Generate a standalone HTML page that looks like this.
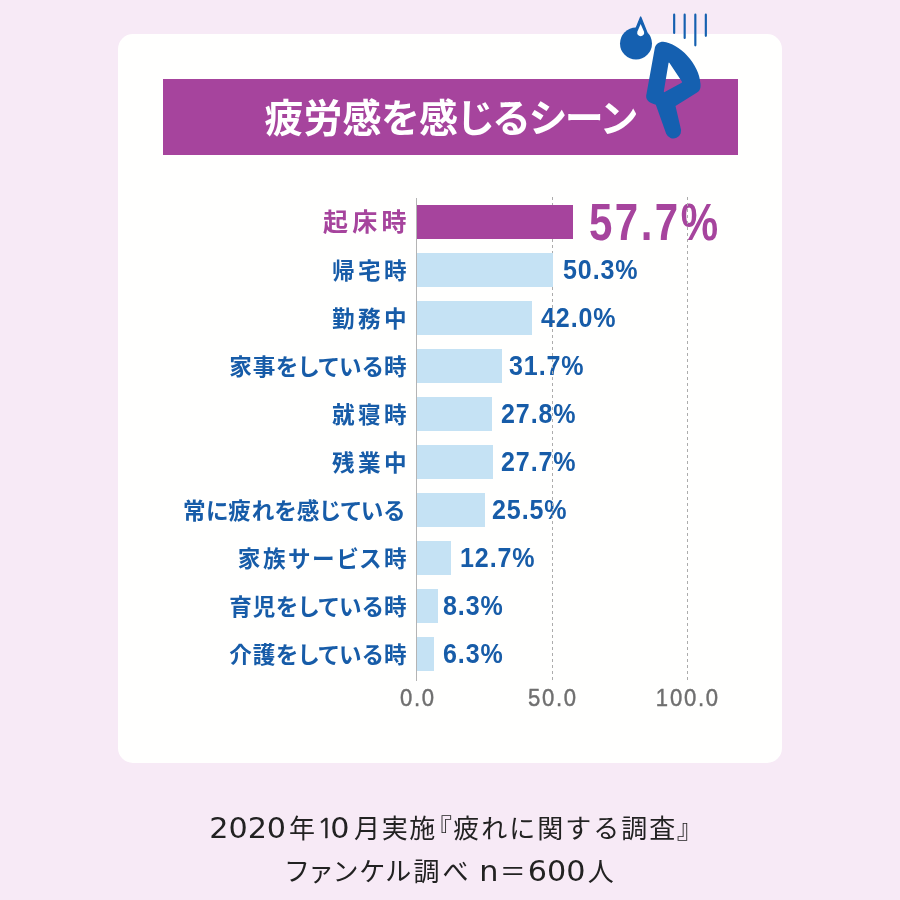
<!DOCTYPE html>
<html lang="ja"><head><meta charset="utf-8"><title>疲労感を感じるシーン</title>
<style>
html,body{margin:0;padding:0}
body{width:900px;height:900px;position:relative;overflow:hidden;background:#f7eaf6;font-family:"Liberation Sans","Noto Sans CJK JP",sans-serif}
.card{position:absolute;left:118px;top:34.4px;width:664px;height:728.8px;border-radius:15px;background:#fffffe}
.banner{position:absolute;left:162.5px;top:79px;width:575px;height:76px;background:#a6449d}
.title{position:absolute;left:162px;top:79px;width:575px;height:76px;line-height:76px;color:#fff;font-weight:700;font-size:39px;white-space:nowrap;font-feature-settings:"palt"}
.title span{position:absolute;left:102.5px;top:2px;letter-spacing:0px}
.bar{position:absolute;left:417px;height:34px;background:#c5e2f4}
.bar.hi{background:#a6449d}
.axis{position:absolute;left:415.8px;top:198px;width:1.2px;height:483px;background:#b4b4b4}
.grid{position:absolute;top:197px;width:1.2px;height:484px;background:repeating-linear-gradient(to bottom,#acacac 0,#acacac 3.2px,transparent 3.2px,transparent 6px)}
.lab{position:absolute;right:493.5px;height:34px;line-height:34px;color:#175ca8;font-weight:700;font-size:22.6px;white-space:nowrap;text-align:right;font-feature-settings:"palt"}
.lab.hi{color:#a6449d;font-size:25px}
.val{position:absolute;height:34px;line-height:33px;color:#175ca8;font-weight:700;font-size:27.5px;letter-spacing:1px;white-space:nowrap;transform:scaleX(0.91);transform-origin:0 0}
.val.hi{color:#a6449d;font-size:51px;letter-spacing:3px;line-height:36px;transform:scaleX(0.824)}
.tick{position:absolute;top:685px;width:100px;margin-left:-50px;text-align:center;color:#6f6f6f;font-size:24px;letter-spacing:1.9px;text-indent:1.9px;line-height:26px;font-weight:400;-webkit-text-stroke:0.45px #6f6f6f;transform:scaleX(0.92)}
.foot{position:absolute;color:#222;font-size:26px;letter-spacing:1.6px;line-height:30px;white-space:nowrap;font-weight:400}
.foot .d{display:inline-block;font-family:"DejaVu Sans","Liberation Sans",sans-serif;font-size:28px;letter-spacing:0;line-height:30px;transform:scaleX(1.08);vertical-align:baseline}
.foot .one{font-family:"NanumGothic","DejaVu Sans",sans-serif;font-size:26.5px;-webkit-text-stroke:0.35px #222;margin-right:-3.5px}
.foot .b{font-feature-settings:"palt"}
.foot .w{letter-spacing:2px}
.foot .k{font-feature-settings:"palt";letter-spacing:2.6px}
svg{position:absolute;left:610px;top:0}
</style></head><body>
<div class="card"></div>
<div class="banner"></div>
<div class="title"><span id="title">疲労感を感じるシーン</span></div>
<div class="lab hi" id="l0" style="top:205px;letter-spacing:4.3px;margin-right:-4.3px">起床時</div>
<div class="val hi" id="v0" style="top:205px;left:588.6px">57.7%</div>
<div class="lab" id="l1" style="top:255px;letter-spacing:3.3px;margin-right:-3.3px">帰宅時</div>
<div class="val" id="v1" style="top:253px;left:562.9px">50.3%</div>
<div class="lab" id="l2" style="top:303px;letter-spacing:3.3px;margin-right:-3.3px">勤務中</div>
<div class="val" id="v2" style="top:301px;left:540.8px">42.0%</div>
<div class="lab" id="l3" style="top:351px;letter-spacing:0.83px;margin-right:-0.83px">家事をしている時</div>
<div class="val" id="v3" style="top:349px;left:509.2px">31.7%</div>
<div class="lab" id="l4" style="top:399px;letter-spacing:3.3px;margin-right:-3.3px">就寝時</div>
<div class="val" id="v4" style="top:397px;left:500.5px">27.8%</div>
<div class="lab" id="l5" style="top:447px;letter-spacing:3.3px;margin-right:-3.3px">残業中</div>
<div class="val" id="v5" style="top:445px;left:500.7px">27.7%</div>
<div class="lab" id="l6" style="top:495px;letter-spacing:0.48px;margin-right:1.52px">常に疲れを感じている</div>
<div class="val" id="v6" style="top:493px;left:491.5px">25.5%</div>
<div class="lab" id="l7" style="top:543px;letter-spacing:2.6px;margin-right:-2.6px">家族サービス時</div>
<div class="val" id="v7" style="top:541px;left:459.9px">12.7%</div>
<div class="lab" id="l8" style="top:591px;letter-spacing:0.83px;margin-right:-0.83px">育児をしている時</div>
<div class="val" id="v8" style="top:589px;left:442.8px">8.3%</div>
<div class="lab" id="l9" style="top:639px;letter-spacing:0.83px;margin-right:-0.83px">介護をしている時</div>
<div class="val" id="v9" style="top:637px;left:443.4px">6.3%</div>
<div class="grid" style="left:551.6px"></div>
<div class="grid" style="left:686.6px"></div>
<div class="bar hi" style="top:205px;width:156.3px"></div>
<div class="bar" style="top:253px;width:135.9px"></div>
<div class="bar" style="top:301px;width:114.5px"></div>
<div class="bar" style="top:349px;width:84.8px"></div>
<div class="bar" style="top:397px;width:74.5px"></div>
<div class="bar" style="top:445px;width:75.9px"></div>
<div class="bar" style="top:493px;width:68.3px"></div>
<div class="bar" style="top:541px;width:33.7px"></div>
<div class="bar" style="top:589px;width:20.8px"></div>
<div class="bar" style="top:637px;width:17.4px"></div>
<div class="axis"></div>
<div class="tick" id="t0" style="left:417px">0.0</div>
<div class="tick" id="t1" style="left:552px">50.0</div>
<div class="tick" id="t2" style="left:687px">100.0</div>
<div class="foot" id="f1" style="top:814px;left:209px"><span class="d" style="margin:0 5.9px 0 2.8px">2020</span>年<span class="d" style="margin:0 5.7px 0 1.4px"><span class="one">1</span>0</span>月実施<span class="b" style="margin-left:1.7px">『</span><span class="w">疲れに関する調査</span><span class="b">』</span></div>
<div class="foot" id="f2" style="top:857px;left:286px"><span class="k">ファンケル調べ</span> <span class="d" style="margin:0 2.5px 0 -0.5px">n</span>＝<span class="d" style="margin:0 4px 0 2.9px">600</span>人</div>
<svg width="120" height="150" viewBox="0 0 720 900">
 <g fill="none" stroke="#1560b0" stroke-linecap="round" stroke-linejoin="round">
  <path d="M385 88V198M448 88V228M512 88V272M575 88V215" stroke-width="13"/>
 </g>
 <path fill="#1560b0" fill-rule="evenodd" d="M319 250C415 258 538 385 543 503C545 530 540 546 520 556L393 636L423 765A46 46 0 0 1 337 803L275 628C240 618 215 602 217 574L268 292C272 264 294 250 319 250ZM357 378L432 490Q434 494 430 496L328 552Q322 555 323 548L351 379Q353 373 357 378Z"/>
 <circle cx="156" cy="261" r="96" fill="#1560b0"/>
 <path d="M184 102L220 192L152 182Z" fill="#1560b0" stroke="#1560b0" stroke-width="8" stroke-linejoin="round"/>
 <path d="M184 144L204 190A21 21 0 1 1 164 190Z" fill="#fff"/>
</svg>
</body></html>
